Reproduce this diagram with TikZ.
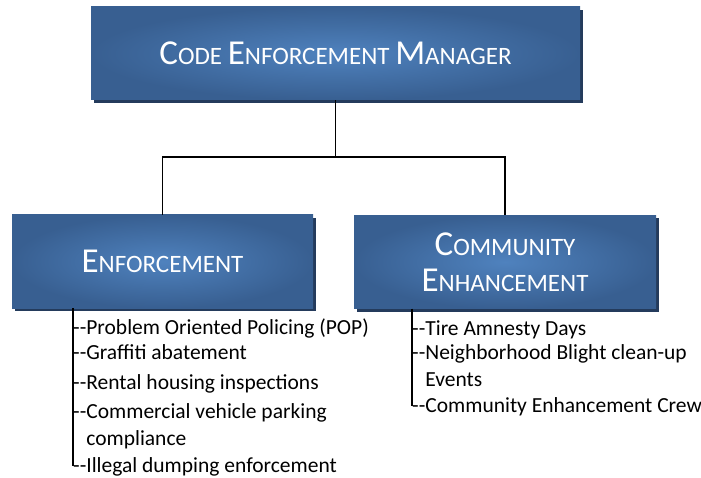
\documentclass[tikz,border=0pt]{standalone}
\usepackage{fontspec}
\setmainfont{Carlito}
\usetikzlibrary{shadows}
\definecolor{boxedge}{HTML}{385F91}
\definecolor{boxmid}{HTML}{4F82BE}
\definecolor{boxshadow}{HTML}{243B5C}
\newcommand\bigsc[2]{{\fontsize{35}{36}\selectfont #1}{\fontsize{25}{36}\selectfont #2}}
\newcommand\dd{-{}-}

\begin{document}
\begin{tikzpicture}[x=1pt,y=-1pt,
  unitbox/.style={rectangle,minimum height=93pt,inner color=boxmid,outer color=boxedge,
    text=white,align=center,font=\fontsize{25}{36}\selectfont,
    drop shadow={shadow xshift=3pt,shadow yshift=-3pt,fill=boxshadow,opacity=1}},
  item/.style={anchor=base west,inner sep=0pt,align=left,font=\fontsize{21.5}{26.5}\selectfont},
  link/.style={draw=black,line width=1.2pt},
  rail/.style={draw=black,line width=1.5pt}]
  \useasboundingbox (0,0) rectangle (701,478);
  % boxes
  \node[unitbox,minimum width=489pt] (mgr) at (335.5,53.5)
    {\bigsc{C}{ODE} \bigsc{E}{NFORCEMENT} \bigsc{M}{ANAGER}};
  \node[unitbox,minimum width=301pt] (enf) at (162.5,261.5)
    {\bigsc{E}{NFORCEMENT}};
  \node[unitbox,minimum width=302pt] (com) at (505,262)
    {\bigsc{C}{OMMUNITY}\\ \bigsc{E}{NHANCEMENT}};
  % connectors
  \coordinate (bus) at (0,157);
  \draw[link] (mgr.south) -- (mgr.south |- bus) coordinate (hub);
  \draw[link] (enf.north) |- (hub) -| (com.north);
  % enforcement duties (multi-line items sit on their last baseline)
  \node[item] (enf1) at (73,334) {\dd Problem Oriented Policing (POP)};
  \node[item] (enf2) at (73,359) {\dd Graffiti abatement};
  \node[item] (enf3) at (73,389) {\dd Rental housing inspections};
  \node[item] (enf4) at (73,445) {\dd Commercial vehicle parking\\\hphantom{\dd}compliance};
  \node[item] (enf5) at (73,472) {\dd Illegal dumping enforcement};
  \draw[rail] (enf.south -| enf5.west) -- (enf5.west);
  % community duties
  \node[item] (com1) at (412,335) {\dd Tire Amnesty Days};
  \node[item] (com2) at (412,386) {\dd Neighborhood Blight clean-up\\\hphantom{\dd}Events};
  \node[item] (com3) at (412,412) {\dd Community Enhancement Crew};
  \draw[rail] (com.south -| com3.west) -- (com3.west);
\end{tikzpicture}
\end{document}
